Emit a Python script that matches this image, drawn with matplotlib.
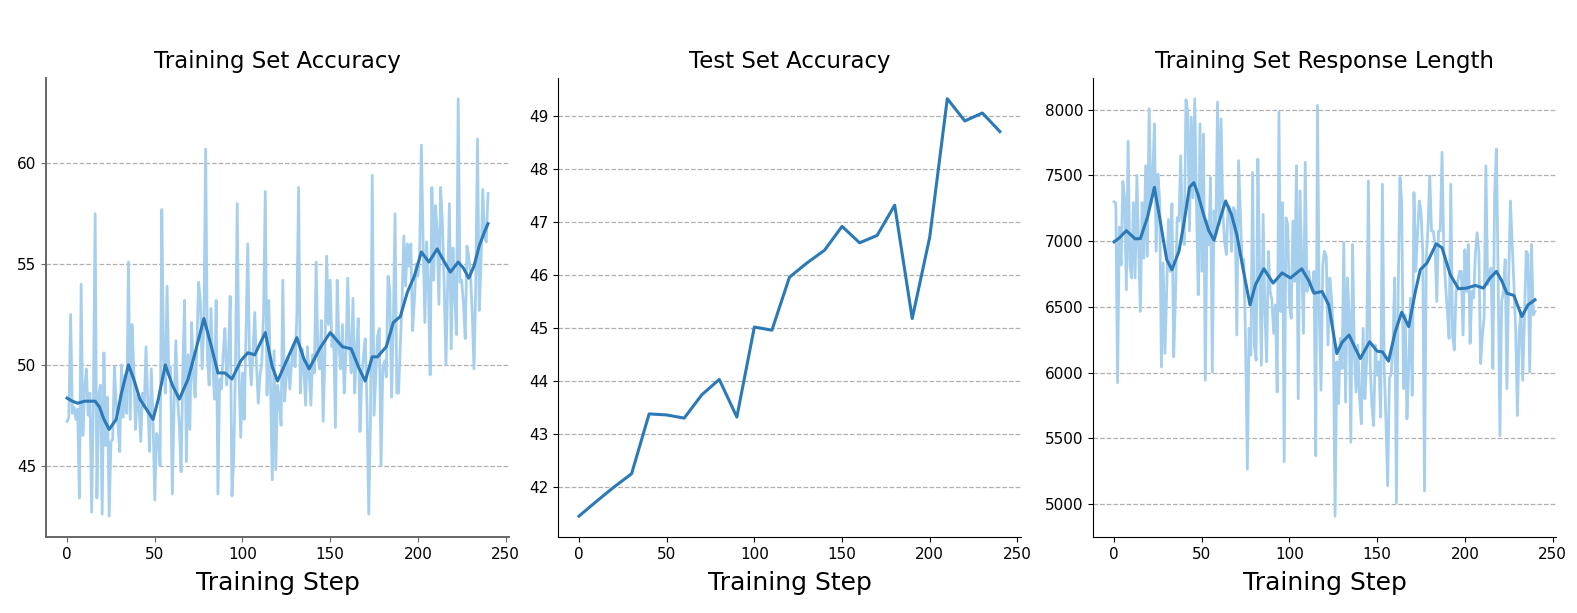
import matplotlib
matplotlib.use('Agg')
import matplotlib.pyplot as plt

steps = list(range(241))

# Training set accuracy (raw, per step)
train_acc = [
    47.2, 47.4, 52.5, 47.6, 47.9, 47.3, 47.8, 43.4, 54.0, 46.5,
    48.8, 49.8, 47.5, 48.6, 42.7, 48.2, 57.5, 43.4, 48.5, 49.0,
    42.6, 50.6, 46.0, 48.4, 42.5, 46.2, 46.3, 49.9, 48.0, 47.0,
    45.7, 50.0, 47.4, 49.5, 47.6, 55.1, 47.3, 52.0, 49.8, 46.8,
    48.5, 48.0, 46.2, 48.6, 47.9, 50.9, 48.2, 45.7, 49.8, 47.3,
    43.3, 46.6, 46.4, 45.0, 57.7, 50.4, 48.6, 53.9, 49.5, 49.9,
    43.6, 48.0, 51.2, 48.3, 47.0, 44.7, 49.8, 53.2, 45.2, 50.5,
    46.8, 52.1, 49.5, 48.4, 51.0, 54.1, 53.2, 49.8, 52.0, 60.7,
    50.4, 49.0, 52.8, 50.2, 48.3, 53.2, 43.6, 49.3, 48.8, 50.6,
    51.8, 49.0, 50.5, 53.4, 43.5, 45.3, 50.0, 58.0, 49.5, 46.4,
    49.6, 47.3, 51.5, 56.0, 50.4, 49.0, 50.7, 52.6, 50.0, 48.1,
    49.5, 50.1, 52.5, 58.6, 48.5, 53.2, 49.0, 44.3, 50.7, 44.8,
    49.0, 48.3, 47.0, 54.2, 48.2, 49.5, 50.4, 48.8, 50.1, 51.0,
    49.9, 52.5, 58.8, 48.6, 50.8, 49.8, 48.0, 50.9, 49.6, 48.0,
    50.5, 49.6, 55.1, 50.5, 49.8, 52.2, 47.2, 50.5, 55.4, 52.0,
    54.2, 50.9, 51.5, 46.9, 54.2, 51.0, 49.8, 52.0, 48.6, 50.5,
    54.3, 51.0, 49.6, 53.3, 48.6, 50.8, 52.3, 46.7, 49.3, 50.5,
    51.3, 48.0, 42.6, 47.4, 59.4, 47.5, 49.5, 51.4, 51.8, 45.0,
    49.8, 50.2, 49.4, 54.4, 53.7, 48.4, 52.0, 57.5, 48.6, 48.6,
    51.0, 53.2, 56.4, 53.9, 56.0, 54.9, 56.0, 51.7, 53.2, 55.0,
    54.4, 55.5, 60.9, 56.0, 52.1, 56.1, 54.0, 49.5, 58.8, 54.2,
    57.9, 56.7, 53.0, 58.8, 57.0, 54.0, 50.0, 53.9, 58.0, 50.8,
    55.8, 53.5, 51.5, 63.2, 54.1, 54.2, 53.0, 51.3, 55.9, 55.4,
    54.5, 52.6, 49.8, 53.9, 61.2, 52.7, 55.0, 58.7, 56.3, 56.1,
    58.5,
]

# Smoothed training accuracy, read at key steps
train_acc_smooth_steps = [0, 3, 6, 10, 16, 18.5, 21, 24, 28, 31, 35, 38, 41.5, 46, 49, 52, 56, 60, 64,
                          69, 73, 78, 82, 86, 90, 94, 99, 103, 107, 113, 117, 120, 125.6, 131, 135,
                          138, 144, 150, 157, 162, 166.6, 170, 174, 177, 182, 186, 190, 194, 198,
                          202, 206.3, 211, 214.5, 218.5, 223, 226, 229, 232, 235, 238, 240]
train_acc_smooth = [48.35, 48.2, 48.1, 48.2, 48.2, 47.9, 47.3, 46.8, 47.3, 48.6, 50.0, 49.3, 48.3, 47.7,
                    47.3, 48.3, 50.0, 49.0, 48.3, 49.3, 50.6, 52.3, 51.0, 49.6, 49.6, 49.3, 50.2,
                    50.6, 50.5, 51.6, 49.9, 49.2, 50.3, 51.35, 50.3, 49.8, 50.8, 51.6, 50.9, 50.8,
                    49.8, 49.2, 50.4, 50.4, 50.9, 52.1, 52.4, 53.6, 54.4, 55.6, 55.1, 55.75, 55.2,
                    54.6, 55.1, 54.8, 54.3, 54.9, 55.9, 56.6, 57.0]

# Test set accuracy (every 10 steps)
test_steps = list(range(0, 241, 10))
test_acc = [41.45, 41.73, 42.0, 42.25, 43.38, 43.36, 43.3, 43.74, 44.03, 43.32, 45.02, 44.96, 45.96,
            46.23, 46.47, 46.92, 46.61, 46.75, 47.32, 45.18, 46.72, 49.33, 48.91, 49.06, 48.71]

# Training set response length (raw, per step)
resp_len = [
    7300, 7290, 5923, 7107, 6820, 7454, 7330, 6630, 7760, 6820,
    6720, 7293, 6720, 7500, 6962, 6465, 7293, 6872, 7574, 6885,
    8008, 7280, 7459, 7893, 6923, 7510, 7306, 6043, 6834, 6146,
    6617, 7166, 6770, 7286, 6120, 6579, 7178, 7153, 7650, 7064,
    6974, 8077, 7982, 7077, 7944, 7330, 8084, 7280, 6592, 7893,
    6770, 7816, 5942, 7153, 6974, 7485, 6005, 7230, 7051, 8059,
    7128, 7931, 7230, 7000, 6898, 7268, 7255, 6923, 7255, 7230,
    6286, 7612, 7204, 6820, 6860, 6222, 5265, 6337, 6133, 7523,
    6209, 6094, 7625, 6770, 6056, 7204, 6465, 6082, 6923, 6617,
    6554, 6299, 6515, 5852, 7982, 6465, 7293, 5321, 7178, 7128,
    6515, 6413, 7153, 6694, 7574, 5801, 7383, 6847, 6299, 7600,
    6617, 6770, 6668, 6617, 6770, 5367, 8033, 6465, 5865, 6820,
    6923, 6885, 6209, 6720, 6566, 6311, 4908, 6082, 5763, 6260,
    6031, 6987, 5776, 6720, 6465, 5470, 6974, 6146, 5852, 6209,
    5801, 5610, 6337, 5801, 6082, 7459, 6082, 5750, 5597, 6209,
    5980, 6082, 5661, 7434, 6056, 5636, 5138, 5954, 5992, 6196,
    6720, 5010, 6617, 7485, 7306, 5878, 6439, 5648, 6031, 6566,
    5827, 7370, 6770, 7051, 7306, 7230, 6923, 5100, 6872, 7100,
    7497, 7077, 7077, 6974, 6541, 7077, 7077, 7676, 6923, 6668,
    6477, 6260, 7434, 6286, 6171, 6617, 6694, 6770, 6770, 6286,
    6936, 6617, 6974, 6222, 6617, 6566, 6898, 7064, 6923, 6069,
    6286, 6413, 7574, 6668, 6745, 6796, 6031, 7357, 7702, 6720,
    5520, 6541, 6617, 6860, 5878, 6720, 7306, 6974, 6668, 6311,
    5674, 6311, 6465, 5942, 6413, 6923, 6898, 6005, 6974, 6439,
    6465,
]

resp_len_smooth_steps = [0, 3, 7, 12, 15, 19, 23, 26, 30, 33, 37, 40, 43, 45.5, 48, 51, 54, 57, 60,
                         63.6, 67, 70, 74, 77.5, 80.6, 85.4, 90.7, 95.8, 100.6, 107, 111, 114,
                         118.6, 122.4, 127, 130, 134, 137, 140.4, 145.7, 150, 153, 156.5, 160.3,
                         164, 168, 171.8, 174.6, 178.4, 183.7, 187, 191.7, 196.4, 201, 206, 210.6,
                         214.4, 218, 221, 224, 228, 232.5, 236, 240]
resp_len_smooth = [6995, 7025, 7080, 7018, 7020, 7180, 7410, 7180, 6860, 6783, 6923, 7150, 7410, 7446,
                   7350, 7204, 7080, 7008, 7150, 7306, 7200, 7050, 6758, 6515, 6668, 6790, 6681,
                   6758, 6720, 6790, 6700, 6604, 6617, 6515, 6145, 6230, 6286, 6200, 6107, 6235,
                   6163, 6158, 6087, 6311, 6459, 6350, 6617, 6783, 6834, 6980, 6950, 6745, 6638,
                   6643, 6663, 6643, 6720, 6770, 6700, 6604, 6587, 6426, 6515, 6554]

raw_color = '#a6cfee'
line_color = '#2b79b6'

fig = plt.figure(figsize=(15.77, 6.13), dpi=100)
ax1 = fig.add_axes([0.0292, 0.124, 0.2936, 0.749])
ax2 = fig.add_axes([0.3538, 0.124, 0.2936, 0.749])
ax3 = fig.add_axes([0.6931, 0.124, 0.2936, 0.749])

ax1.plot(steps, train_acc, color=raw_color, linewidth=2)
ax1.plot(train_acc_smooth_steps, train_acc_smooth, color=line_color, linewidth=2.2)
ax1.set_title('Training Set Accuracy', fontsize=16.5, pad=7)
ax1.set_yticks([45, 50, 55, 60])

ax2.plot(test_steps, test_acc, color=line_color, linewidth=2.2)
ax2.set_title('Test Set Accuracy', fontsize=16.5, pad=7)

ax3.plot(steps, resp_len, color=raw_color, linewidth=2)
ax3.plot(resp_len_smooth_steps, resp_len_smooth, color=line_color, linewidth=2.2)
ax3.set_title('Training Set Response Length', fontsize=16.5, pad=7)

for ax in (ax1, ax2, ax3):
    ax.spines['top'].set_visible(False)
    ax.spines['right'].set_visible(False)
    ax.grid(axis='y', linestyle='--', color='#b0b0b0', linewidth=0.9)
    ax.set_axisbelow(True)
    ax.set_xlabel('Training Step', fontsize=18, labelpad=7)
    ax.set_xticks([0, 50, 100, 150, 200, 250])
    ax.tick_params(labelsize=11)

for side in ('left', 'bottom'):
    ax1.spines[side].set_color('#666666')
    ax1.spines[side].set_linewidth(1.4)
ax1.tick_params(color='#666666')

fig.savefig('out.png', dpi=100)
